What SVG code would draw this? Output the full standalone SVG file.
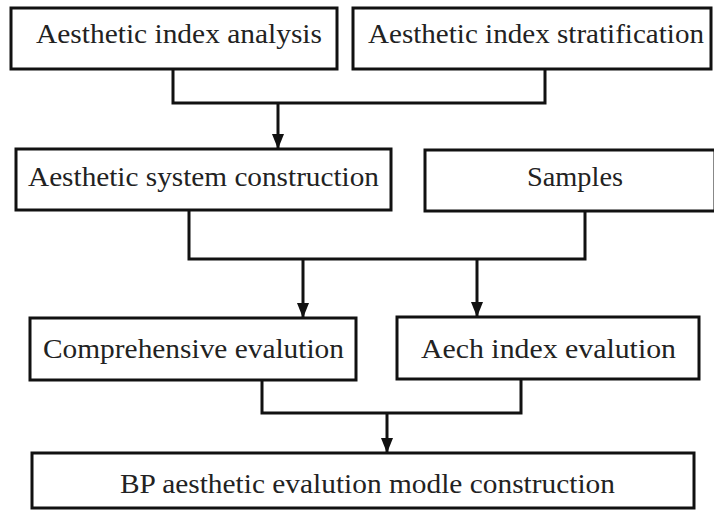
<svg xmlns="http://www.w3.org/2000/svg" width="714" height="510" viewBox="0 0 714 510">
<style>
.box{fill:#fff;stroke:#111;stroke-width:3}
.ln{fill:none;stroke:#111;stroke-width:3}
.t{font-family:"Liberation Serif","Times New Roman",serif;font-size:27px;fill:#222}
</style>
<defs>
<marker id="ah" markerWidth="15" markerHeight="12" refX="15" refY="6" orient="auto" markerUnits="userSpaceOnUse" viewBox="0 0 15 12">
<path d="M0,0 L15,6 L0,12 Z" fill="#111"/>
</marker>
</defs>
<rect width="714" height="510" fill="#fff"/>
<g id="connectors">
<path class="ln" d="M173,69 V103 H545 V69"/>
<path class="ln" d="M278,103 V149" marker-end="url(#ah)"/>
<path class="ln" d="M189,210 V259 H585 V211"/>
<path class="ln" d="M303,259 V318" marker-end="url(#ah)"/>
<path class="ln" d="M477,259 V317" marker-end="url(#ah)"/>
<path class="ln" d="M262,380 V413 H521 V379"/>
<path class="ln" d="M387,413 V453" marker-end="url(#ah)"/>
</g>
<g id="n1"><rect class="box" x="11" y="8" width="326" height="61"/><text class="t" x="36" y="43" textLength="286" lengthAdjust="spacingAndGlyphs">Aesthetic index analysis</text></g>
<g id="n2"><rect class="box" x="353" y="8" width="358" height="61"/><text class="t" x="368" y="43" textLength="336" lengthAdjust="spacingAndGlyphs">Aesthetic index stratification</text></g>
<g id="n3"><rect class="box" x="16" y="149" width="375" height="61"/><text class="t" x="28" y="186" textLength="351" lengthAdjust="spacingAndGlyphs">Aesthetic system construction</text></g>
<g id="n4"><rect class="box" x="425" y="150" width="290" height="61"/><text class="t" x="527" y="186" textLength="96" lengthAdjust="spacingAndGlyphs">Samples</text></g>
<g id="n5"><rect class="box" x="30" y="318" width="326" height="62"/><text class="t" x="43" y="358" textLength="301" lengthAdjust="spacingAndGlyphs">Comprehensive evalution</text></g>
<g id="n6"><rect class="box" x="397" y="317" width="302" height="62"/><text class="t" x="421" y="358" textLength="255" lengthAdjust="spacingAndGlyphs">Aech index evalution</text></g>
<g id="n7"><rect class="box" x="32" y="453" width="662" height="55"/><text class="t" x="120" y="493" textLength="495" lengthAdjust="spacingAndGlyphs">BP aesthetic evalution modle construction</text></g>
</svg>
